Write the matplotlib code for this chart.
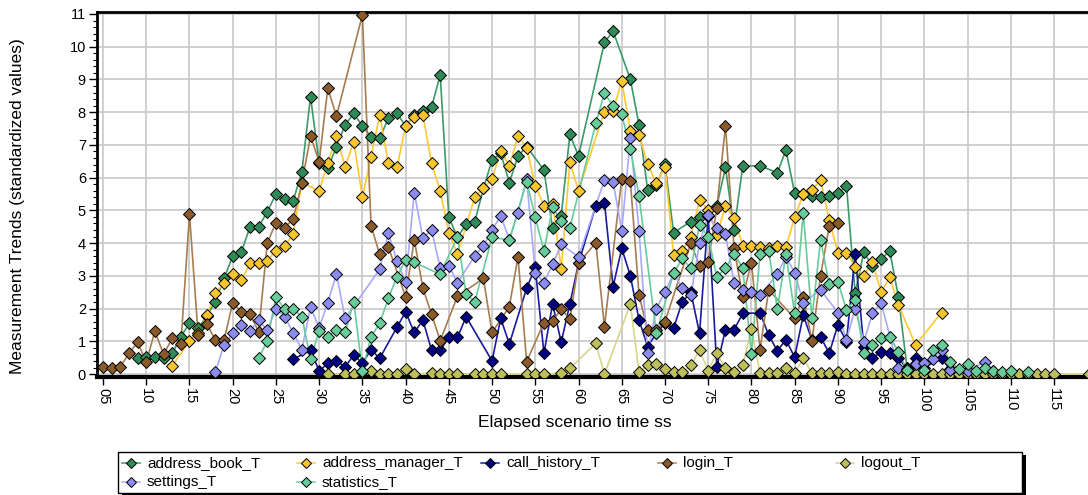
import matplotlib
matplotlib.use("Agg")
import matplotlib.pyplot as plt
from matplotlib.lines import Line2D
from matplotlib.patches import Rectangle
from matplotlib.ticker import MultipleLocator, FixedLocator

plt.rcParams['font.family'] = ['Liberation Sans', 'DejaVu Sans']

# ---------------- data ----------------
book_t = [9,10,11,12,13,14,15,16,17,18,19,20,21,22,23,24,25,26,27,28,29,30,31,32,33,34,35,36,37,38,39,40,41,42,43,44,45,46,47,48,49,50,51,52,53,54,56,57,58,59,60,63,64,66,67,68,69,70,71,73,74,76,77,78,79,81,83,84,85,86,87,88,89,90,91,92,93,94,95,96,97,98,99]
book_v = [0.48,0.53,0.53,0.48,0.63,1.14,1.55,1.4,1.78,2.21,2.92,3.61,3.72,4.5,4.5,4.96,5.5,5.35,5.3,6.18,8.47,6.45,6.28,6.95,7.61,7.96,7.58,7.25,7.2,7.81,7.96,7.58,7.91,8.05,8.15,9.14,4.79,4.18,4.58,4.65,5.67,6.54,6.74,5.85,6.66,6.95,6.23,4.45,4.83,7.32,6.66,10.13,10.48,9.0,7.61,5.62,5.77,6.42,4.32,4.66,4.81,5.13,6.31,4.4,6.36,6.36,6.15,6.84,5.52,5.5,5.45,5.4,5.44,5.52,5.75,2.47,3.72,3.3,3.5,3.77,2.36,0.2,0.1]

manager_t = [13,15,16,17,18,19,20,21,22,23,24,25,26,27,28,30,31,32,33,34,35,36,37,38,39,40,41,42,43,44,45,46,48,49,50,51,52,53,54,55,56,57,58,59,60,63,64,65,66,67,68,69,70,71,72,73,74,75,76,77,78,79,80,81,82,83,84,85,86,87,88,89,90,91,92,93,94,95,96,97,99,102]
manager_v = [0.25,1.02,1.24,1.8,2.47,2.79,3.06,2.87,3.38,3.38,3.46,3.77,3.91,4.27,5.85,5.6,6.44,7.27,6.33,7.1,5.4,6.64,7.91,6.44,6.31,7.58,7.86,7.91,6.44,5.6,4.32,3.67,5.4,5.67,5.96,6.82,6.36,7.27,6.91,5.75,5.14,5.21,3.2,6.47,5.6,8.02,8.05,8.95,7.42,7.3,6.41,5.83,6.33,3.64,3.77,4.2,5.32,5.01,4.25,5.13,4.76,3.92,3.9,3.88,3.85,3.92,3.88,4.79,5.49,5.62,5.93,4.71,3.71,3.71,3.28,3.0,3.41,2.5,2.95,2.11,0.89,1.88]

call_t = [27,29,30,31,32,33,34,35,36,37,39,40,41,42,43,44,45,46,47,50,51,52,54,55,56,57,58,59,60,62,63,64,65,66,67,68,69,70,71,72,73,74,75,76,77,78,79,81,82,83,84,85,86,87,88,89,90,91,92,93,94,95,96,97,98,99,100,102,103,105,108]
call_v = [0.45,0.73,0.09,0.33,0.4,0.22,0.58,0.33,0.75,0.48,1.43,1.9,1.27,1.65,0.73,0.73,1.12,1.12,1.75,0.4,1.7,0.92,2.62,3.26,0.63,2.14,0.97,2.14,3.38,5.14,5.24,2.67,3.84,3.0,1.65,0.84,1.24,1.55,1.4,2.21,2.5,1.24,4.83,0.22,1.36,1.36,1.85,1.87,1.19,0.71,1.05,0.51,1.8,1.04,1.14,0.63,1.5,0.99,3.67,0.84,0.48,0.68,0.63,0.48,0.17,0.48,0.2,0.48,0.14,0.1,0.05]

login_t = [5,6,7,8,9,10,11,12,13,14,15,16,17,18,19,20,21,22,23,24,25,26,27,28,29,30,31,32,35,36,37,38,40,41,42,43,44,46,49,50,52,53,54,56,57,58,59,60,62,63,65,66,67,68,69,70,73,74,75,76,77,78,79,80,81,82,85,86,87,88,89,90]
login_v = [0.22,0.17,0.22,0.63,0.97,0.36,1.31,0.6,1.09,0.91,4.88,1.19,1.53,1.04,1.04,2.18,1.9,1.83,1.29,4.01,4.62,4.47,4.74,5.83,7.27,6.49,8.73,7.88,10.97,4.53,3.66,3.89,2.36,4.11,2.62,1.83,1.02,2.38,2.92,1.27,2.06,3.58,0.38,1.57,1.63,1.98,1.68,3.39,4.01,1.45,5.96,5.9,2.41,1.34,1.35,1.6,4.0,3.31,3.43,5.06,7.58,3.84,2.36,3.4,0.75,2.57,1.7,2.36,1.02,3.0,4.52,4.62]

logout_t = [31,33,34,35,36,37,38,39,40,41,43,44,45,46,48,49,50,51,54,55,56,58,59,62,63,66,67,68,69,70,71,72,73,74,75,76,77,78,79,80,81,82,83,84,85,86,87,88,89,90,91,92,93,94,95,96,97,98,99,100,101,102,103,104,105,106,107,108,109,110,111,112,113,114,115,119]
logout_v = [0.0,0.0,0.0,0.05,0.1,0.0,0.0,0.0,0.15,0.0,0.03,0.0,0.0,0.0,0.0,0.0,0.0,0.0,0.0,0.0,0.0,0.03,0.17,0.94,0.0,2.14,0.05,0.27,0.3,0.15,0.05,0.05,0.27,0.73,0.1,0.65,0.17,0.07,0.27,1.37,0.03,0.02,0.02,0.17,0.02,0.48,0.03,0.03,0.03,0.05,0.0,0.0,0.0,0.0,0.0,0.0,0.0,0.0,0.0,0.0,0.0,0.0,0.0,0.0,0.0,0.0,0.0,0.0,0.0,0.0,0.0,0.0,0.0,0.0,0.0,0.0]

settings_t = [18,19,20,21,22,23,24,25,26,27,28,29,30,31,32,33,37,38,39,40,41,42,43,44,45,46,48,49,50,51,52,53,54,55,56,57,58,60,63,64,65,66,67,68,69,70,71,72,73,74,75,76,77,78,79,80,81,83,84,85,86,88,90,91,92,93,94,95,97,98,99,100,101,102,103,105,107,108]
settings_v = [0.07,0.89,1.24,1.5,1.31,1.65,1.34,2.0,1.75,1.26,0.75,2.04,1.42,2.18,3.06,1.7,3.2,4.32,3.45,2.82,5.54,4.15,4.4,3.25,3.31,2.79,3.61,3.92,4.4,4.83,4.11,4.93,5.95,3.1,2.79,3.35,3.96,3.58,5.93,5.88,4.38,7.2,4.38,0.63,2.0,2.5,3.08,2.62,2.41,4.0,4.86,4.45,4.27,2.77,2.57,2.5,2.41,3.06,3.58,3.1,2.18,2.57,1.88,1.04,2.0,0.99,1.85,2.18,0.17,0.15,0.31,0.33,0.45,0.75,0.12,0.1,0.38,0.1]

stats_t = [23,24,25,26,27,28,29,30,31,32,33,34,35,36,37,38,39,40,41,44,46,47,48,50,52,54,55,56,57,58,59,62,63,64,65,66,67,69,71,72,73,74,75,76,77,78,79,80,81,82,83,84,85,86,87,88,89,90,91,92,93,94,95,96,97,98,100,101,102,103,104,105,106,107,108,109,110,112]
stats_v = [0.48,1.02,2.36,1.98,1.98,1.75,0.45,1.32,1.14,1.34,1.27,2.21,0.1,1.14,1.55,2.31,2.97,3.48,3.41,3.05,4.19,2.44,2.21,4.18,4.09,5.88,4.79,3.77,5.09,4.67,4.47,7.66,8.58,8.19,7.93,6.87,5.44,1.25,3.08,3.53,3.23,4.55,4.2,2.97,3.23,3.67,3.23,0.61,3.67,3.77,1.98,3.67,1.85,4.93,1.7,4.09,2.74,2.82,1.96,2.26,0.63,0.89,1.09,1.14,0.68,0.12,0.12,0.73,0.89,0.38,0.15,0.31,0.1,0.2,0.1,0.05,0.1,0.05]

x_ticks = list(range(5, 120, 5))
x_tick_labels = ["%02d" % v for v in x_ticks]
y_ticks = list(range(0, 12))

series = [
    ("address_book_T", book_t, book_v, "#2E8B57", "#3A9A68"),
    ("address_manager_T", manager_t, manager_v, "#F7C52E", "#FFC833"),
    ("call_history_T", call_t, call_v, "#000080", "#1A1AA0"),
    ("login_T", login_t, login_v, "#8B5A2B", "#A87C50"),
    ("logout_T", logout_t, logout_v, "#BFBF5A", "#D6D68A"),
    ("settings_T", settings_t, settings_v, "#8C8CF0", "#A8A8FF"),
    ("statistics_T", stats_t, stats_v, "#66CC99", "#66CC99"),
]

# ---------------- figure ----------------
W, H = 1088, 495
fig = plt.figure(figsize=(W / 100, H / 100), dpi=100)
ax_left, ax_right, ax_top, ax_bottom = 97, 1092, 12, 377
ax = fig.add_axes([ax_left / W, 1 - ax_bottom / H, (ax_right - ax_left) / W, (ax_bottom - ax_top) / H])

for name, xs, ys, mc, lc in series:
    ax.plot(xs, ys, color=lc, lw=1.2, zorder=3)
    ax.plot(xs, ys, ls="none", marker="D", ms=6.2, mfc=mc, mec="black", mew=0.7, zorder=4)

ax.set_xlim(4.3, 119.4)
ax.set_ylim(-0.09, 11.06)
ax.xaxis.set_major_locator(FixedLocator(x_ticks))
ax.set_xticklabels(x_tick_labels, rotation=-90, fontsize=10.5)
ax.set_yticks(y_ticks)
ax.set_yticklabels([str(v) for v in y_ticks], fontsize=10.5)
ax.yaxis.set_minor_locator(MultipleLocator(0.2))
ax.tick_params(axis="y", which="major", length=6, width=1, direction="out", pad=2)
ax.tick_params(axis="y", which="minor", length=3, width=0.8, direction="out")
ax.tick_params(axis="x", which="major", length=6, width=1, direction="out", pad=2)
ax.grid(True, which="major", color="#C8C8C8", lw=1.2, zorder=0)
ax.set_axisbelow(True)
for s in ["left", "top"]:
    ax.spines[s].set_linewidth(2)
ax.spines["bottom"].set_linewidth(3)
ax.spines["right"].set_visible(False)

fig.text(18 / W, 1 - 206 / H, "Measurement Trends (standardized values)", rotation=90,
         ha="center", va="center", fontsize=12.5)
fig.text(575 / W, 1 - 422 / H, "Elapsed scenario time ss", ha="center", va="center", fontsize=12.5)

# ---------------- legend (manual) ----------------
def fx(px):
    return px / W

def fy(py):
    return 1 - py / H

lx0, lx1, ly0, ly1 = 118, 1022, 452, 493
fig.add_artist(Rectangle((fx(lx0 + 4), fy(ly1 + 3)), fx(lx1 - lx0), fy(ly0) - fy(ly1),
                         transform=fig.transFigure, facecolor="black", edgecolor="none", zorder=1))
fig.add_artist(Rectangle((fx(lx0), fy(ly1)), fx(lx1 - lx0), fy(ly0) - fy(ly1),
                         transform=fig.transFigure, facecolor="white", edgecolor="black", lw=1, zorder=2))

leg_pos = [(131, 463), (306, 463), (490, 463), (667, 463), (845, 463), (131, 482), (306, 482)]
for (name, xs, ys, mc, lc), (mx, my) in zip(series, leg_pos):
    fig.add_artist(Line2D([fx(mx - 9), fx(mx + 9)], [fy(my), fy(my)], transform=fig.transFigure,
                          color=lc, lw=1.1, zorder=3))
    fig.add_artist(Line2D([fx(mx)], [fy(my)], transform=fig.transFigure, ls="none", marker="D",
                          ms=5, mfc=mc, mec="black", mew=0.7, zorder=4))
    fig.text(fx(mx + 16), fy(my), name, ha="left", va="center", fontsize=11, zorder=5)

fig.savefig("out.png", dpi=100)
